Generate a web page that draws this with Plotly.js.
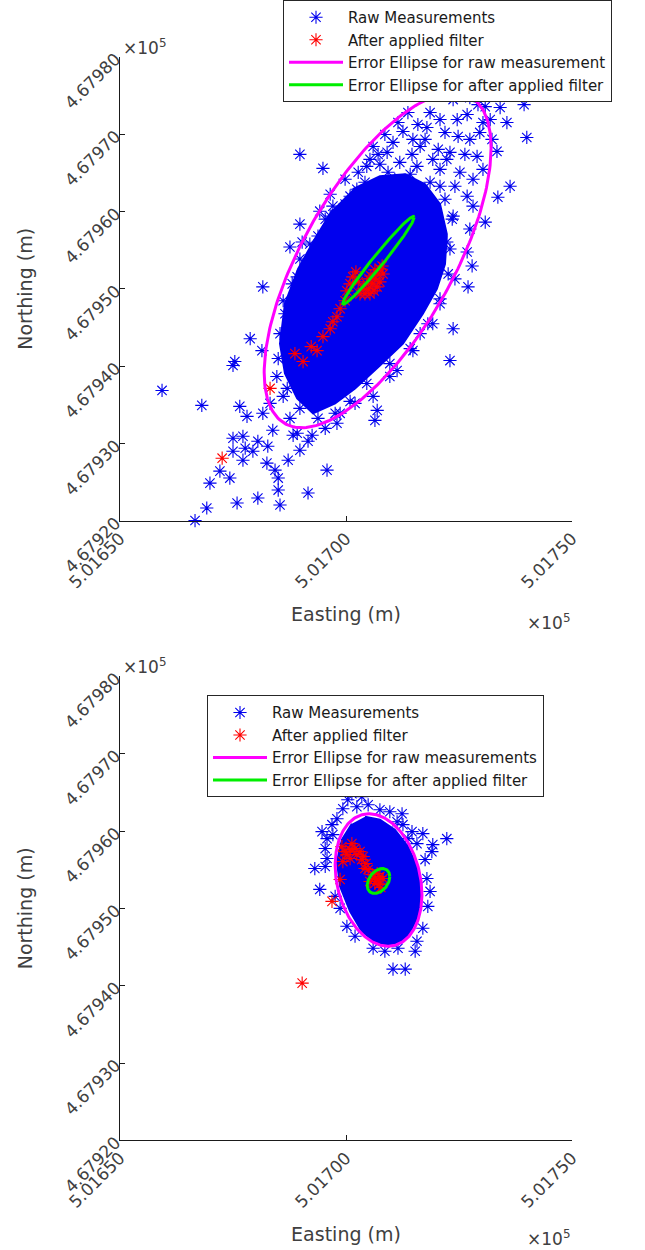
<!DOCTYPE html>
<html>
<head>
<meta charset="utf-8">
<script src="https://cdn.plot.ly/plotly-3.0.1.min.js"></script>
<style>html,body{margin:0;padding:0;background:#fff;}#chart{width:645px;height:1250px;}</style>
</head>
<body>
<div id="chart"></div>
<script>
// ---------- Tick labels ----------
const xTickVals = [501650, 501700, 501750];
const xTickText = ["5.01650", "5.01700", "5.01750"];
const yTickVals = [4679200, 4679300, 4679400, 4679500, 4679600, 4679700, 4679800];
const yTickText = ["4.67920", "4.67930", "4.67940", "4.67950", "4.67960", "4.67970", "4.67980"];

// ---------- Top panel: raw measurements (individually visible asterisks) ----------
const rawTopE = [501689.8,501694.9,501713.7,501712.6,501715.9,501717.9,501710.4,501716.4,501720.4,501706.0,
501707.5,501704.6,501709.1,501724.6,501726.8,501724.8,501727.4,501723.7,501727.4,501730.8,
501734.1,501735.6,501730.3,501729.6,501733.4,501733.6,501736.3,501730.8,501729.0,501730.3,
501728.1,501725.2,501722.3,501719.2,501715.7,501711.9,501720.8,501726.8,501728.1,501723.7,
501727.4,501726.8,501722.3,501689.8,501694.2,501697.1,501700.9,501687.6,501690.3,501693.8,
501696.5,501705.3,501681.6,501678.8,501681.4,501675.4,501727.9,501727.0,501723.7,501719.2,
501723.0,501675.0,501676.5,501678.1,501681.6,501683.8,501689.2,501692.5,501698.0,501698.7,
501706.0,501706.9,501706.4,501709.7,501711.3,501714.8,501686.1,501684.7,501686.1,501689.2,
501659.3,501668.1,501675.0,501677.2,501677.7,501675.0,501679.4,501680.5,501682.7,501677.2,
501672.1,501674.3,501669.9,501682.5,501684.3,501685.0,501685.0,501687.2,501689.8,501691.6,
501688.3,501695.8,501691.6,501685.4,501680.5,501675.9,501669.2,501666.6,501739.4,501740.0,
501683.2,501687.6,501695.4,501702.0,501716.4,501720.8,501724.1,501699.8,501696.5,501702.7,
501708.6,501711.5,501718.6,501721.9,501714.6,501717.5,501723.0,501726.3,501720.8,501724.1,
501710.8,501704.2,501702.4,501699.8,501731.9,501732.3,501729.2,501720.8,501714.8,501707.1,
501689.8,501688.1,501686.5,501685.4,501685.0,501687.0,501689.8,501693.8,501697.6,501700.9,
501704.6,501709.7,501714.2,501718.1,501720.8,501722.6,501723.0,501723.5,501721.9,501718.6,
501714.2,501709.3,501695.4,501692.0];
const rawTopN = [4679673.8,4679655.8,4679727.9,4679703.5,4679712.5,4679708.6,4679689.3,4679684.1,4679680.3,4679684.1,
4679661.0,4679658.4,4679676.4,4679718.9,4679725.3,4679697.0,4679693.2,4679744.7,4679747.2,4679735.6,
4679734.4,4679715.0,4679715.0,4679702.2,4679677.7,4679618.5,4679632.6,4679586.3,4679671.3,4679654.5,
4679641.7,4679650.7,4679667.4,4679667.4,4679658.4,4679663.5,4679632.6,4679619.8,4679606.9,4679594.0,
4679577.3,4679547.7,4679560.5,4679583.7,4679600.4,4679606.9,4679619.8,4679554.1,4679560.5,4679568.3,
4679594.0,4679667.4,4679502.6,4679435.6,4679420.2,4679406.0,4679529.6,4679502.6,4679448.5,4679454.9,
4679407.3,4679400.9,4679348.1,4679335.2,4679339.1,4679317.2,4679313.3,4679310.7,4679326.2,4679339.1,
4679361.0,4679342.9,4679330.0,4679386.7,4679394.4,4679420.2,4679361.0,4679386.7,4679484.6,4679515.5,
4679368.7,4679349.4,4679306.9,4679309.4,4679294.0,4679290.1,4679290.1,4679303.0,4679296.6,4679278.5,
4679264.4,4679255.4,4679248.9,4679274.7,4679265.7,4679255.4,4679239.9,4679278.5,4679291.4,4679303.0,
4679310.7,4679265.7,4679236.1,4679220.6,4679229.6,4679223.2,4679216.7,4679200.5,4679738.2,4679695.7,
4679351.9,4679332.6,4679319.7,4679351.9,4679442.1,4679480.7,4679512.9,4679641.7,4679622.3,4679650.7,
4679699.6,4679715.0,4679727.9,4679702.2,4679673.8,4679693.2,4679676.4,4679673.8,4679654.5,4679632.6,
4679641.7,4679637.8,4679628.8,4679609.5,4679718.9,4679693.2,4679738.2,4679718.9,4679693.2,4679673.8,
4679538.6,4679506.4,4679467.8,4679442.1,4679409.9,4679371.3,4679345.5,4679332.6,4679339.1,4679354.5,
4679377.7,4679403.4,4679422.8,4679454.9,4679487.1,4679519.3,4679551.5,4679590.1,4679615.9,4679637.8,
4679648.1,4679650.7,4679590.1,4679558.0];

// Outline of the region where the raw points overlap into a solid mass (top)
const coreTopE = [501701.5,501707.5,501713.1,501717.5,501720.8,501722.3,501721.9,501720.1,501717.0,501712.6,
501707.5,501702.0,501697.6,501692.7,501689.2,501686.5,501685.4,501686.5,501689.4,501693.1,501697.1];
const coreTopN = [4679628.8,4679645.5,4679648.1,4679635.2,4679609.5,4679570.8,4679532.2,4679500.0,4679467.8,4679429.2,
4679400.9,4679371.3,4679351.9,4679339.1,4679358.4,4679390.6,4679429.2,4679480.7,4679525.8,4679564.4,4679603.0];

// Top panel: after applied filter
const filtTopE = [501672.6,501683.2,501688.7,501690.5,501693.6,501694.9,501696.5,501698.0,501698.7,501699.8,
501700.2,501700.9,501701.5,501704.2,501704.9,501705.8,501706.4,501707.1,501707.5,501705.3,
501706.2,501706.9,501707.5,501704.6,501705.5,501706.4,501705.1,501708.0,501703.8,501702.7,
501703.1,501708.2,501702.2,501697.1,501692.3];
const filtTopN = [4679281.1,4679371.3,4679416.3,4679406.0,4679420.2,4679438.2,4679448.5,4679464.0,4679474.3,4679484.6,
4679497.4,4679506.4,4679515.5,4679493.6,4679500.0,4679506.4,4679512.9,4679519.3,4679525.8,4679493.6,
4679497.4,4679502.6,4679509.0,4679506.4,4679516.7,4679524.5,4679512.9,4679529.6,4679500.0,4679509.0,
4679493.6,4679519.3,4679521.9,4679457.5,4679425.3];

// Error ellipses: [centre E, centre N, half-extent E, half-extent N, correlation]
const ellRawTop  = [501707.0, 4679537.0, 25.1, 216.5, 0.67];
const ellFiltTop = [501707.2, 4679537.0, 7.9, 56.7, 0.98];

// ---------- Bottom panel ----------
const rawBotE = [501702.4,501701.3,501700.4,501699.3,501702.4,501704.9,501707.5,501709.7,501712.4,501712.6,
501711.3,501698.0,501696.9,501694.7,501695.8,501697.1,501695.4,501693.1,501695.4,501694.2,
501717.0,501719.2,501719.0,501722.3,501715.7,501713.7,501717.9,501718.6,501717.0,501715.7,
501715.3,501711.5,501706.0,501700.2,501698.7,501710.4,501713.1,501695.8,501703.5,501714.6,
501717.5,501718.1,501708.6,501697.6,501702.0];
const rawBotN = [4679657.1,4679648.1,4679640.4,4679628.8,4679631.3,4679633.9,4679627.5,4679624.9,4679622.3,4679608.2,
4679612.0,4679615.9,4679608.2,4679599.2,4679590.1,4679595.3,4679577.3,4679551.5,4679554.1,4679524.5,
4679596.6,4679582.4,4679573.4,4679590.1,4679583.7,4679590.1,4679538.6,4679521.9,4679474.3,4679457.5,
4679444.6,4679448.5,4679448.5,4679476.8,4679500.0,4679421.5,4679421.5,4679564.4,4679644.2,4679599.2,
4679563.1,4679502.6,4679444.6,4679515.5,4679464.0];

const coreBotE = [501704.2,501707.5,501710.8,501713.7,501715.7,501716.6,501715.9,501713.7,501710.4,501707.1,
501703.5,501700.9,501698.7,501698.0,501699.1,501701.3];
const coreBotN = [4679618.5,4679614.6,4679601.7,4679579.8,4679554.1,4679521.9,4679489.7,4679464.0,4679451.1,4679453.7,
4679470.4,4679496.1,4679528.3,4679560.5,4679588.9,4679609.5];

const filtBotE = [501690.3,501696.9,501698.7,501699.3,501700.2,501700.9,501702.0,501703.1,501703.8,501704.4,
501704.9,501705.8,501706.4,501707.1,501707.5,501706.4,501700.9,501699.8,501702.4,501703.5,
501704.2,501706.9,501707.3,501708.2,501705.3,501707.7,501701.3,501699.1];
const filtBotN = [4679403.4,4679509.0,4679537.4,4679560.5,4679569.5,4679576.0,4679577.3,4679573.4,4679567.0,4679558.0,
4679550.2,4679543.8,4679538.6,4679537.4,4679541.2,4679532.2,4679564.4,4679573.4,4679569.5,4679563.1,
4679551.5,4679545.1,4679530.9,4679538.6,4679534.8,4679527.0,4679583.7,4679579.8];

const ellRawBot  = [501707.2, 4679536.7, 9.6, 85.6, -0.22];
const ellFiltBot = [501707.2, 4679535.4, 2.5, 16.1, 0.35];

// ---------- Styling ----------
const BLUE = '#0000EE', RED = '#FF0000', MAG = '#FF00FF', GRN = '#00EE00';
const FONT = 'DejaVu Sans, Liberation Sans, sans-serif';

function ellipseXY(p) {
  const [ce, cn, ae, an, rho] = p;
  const s = Math.sqrt(1 - rho * rho);
  const xs = [], ys = [];
  for (let i = 0; i <= 240; i++) {
    const t = 2 * Math.PI * i / 240;
    xs.push(ce + ae * Math.cos(t));
    ys.push(cn + an * (rho * Math.cos(t) + s * Math.sin(t)));
  }
  return [xs, ys];
}

function panel(xa, ya, lg, rawE, rawN, coreE, coreN, fE, fN, eR, eF, rawLabel) {
  const [mx, my] = ellipseXY(eR);
  const [gx, gy] = ellipseXY(eF);
  return [
    {x: coreE, y: coreN, xaxis: xa, yaxis: ya, type: 'scatter', mode: 'lines', fill: 'toself',
     fillcolor: BLUE, line: {color: BLUE, width: 2}, showlegend: false, hoverinfo: 'skip', legend: lg},
    {x: rawE, y: rawN, xaxis: xa, yaxis: ya, type: 'scatter', mode: 'markers', name: 'Raw Measurements', legend: lg,
     cliponaxis: false,
     marker: {symbol: 'asterisk-open', size: 11, color: BLUE, line: {color: BLUE, width: 1.1}}},
    {x: fE, y: fN, xaxis: xa, yaxis: ya, type: 'scatter', mode: 'markers', name: 'After applied filter', legend: lg,
     cliponaxis: false,
     marker: {symbol: 'asterisk-open', size: 11, color: RED, line: {color: RED, width: 1.1}}},
    {x: mx, y: my, xaxis: xa, yaxis: ya, type: 'scatter', mode: 'lines', name: rawLabel, legend: lg,
     line: {color: MAG, width: 3}},
    {x: gx, y: gy, xaxis: xa, yaxis: ya, type: 'scatter', mode: 'lines', name: 'Error Ellipse for after applied filter', legend: lg,
     line: {color: GRN, width: 3}}
  ];
}

const data = [].concat(
  panel('x', 'y', 'legend', rawTopE, rawTopN, coreTopE, coreTopN, filtTopE, filtTopN, ellRawTop, ellFiltTop,
        'Error Ellipse for raw measurement'),
  panel('x2', 'y2', 'legend2', rawBotE, rawBotN, coreBotE, coreBotN, filtBotE, filtBotN, ellRawBot, ellFiltBot,
        'Error Ellipse for raw measurements')
);

function xAxis(dom, anchor) {
  return {domain: dom, anchor: anchor, range: [501650, 501750], showline: true, linecolor: '#1a1a1a', linewidth: 1,
    mirror: false, ticks: 'inside', ticklen: 5, tickcolor: '#1a1a1a', tickmode: 'array', tickvals: xTickVals,
    ticktext: xTickText, tickangle: -45, tickfont: {family: FONT, size: 17, color: '#404040'},
    showgrid: false, zeroline: false, fixedrange: true,
    title: {text: 'Easting (m)', font: {family: FONT, size: 19, color: '#404040'}, standoff: 16}};
}
function yAxis(dom, anchor) {
  return {domain: dom, anchor: anchor, range: [4679200, 4679800], showline: true, linecolor: '#1a1a1a', linewidth: 1,
    mirror: false, ticks: 'inside', ticklen: 5, tickcolor: '#1a1a1a', tickmode: 'array', tickvals: yTickVals,
    ticktext: yTickText, tickangle: -45, tickfont: {family: FONT, size: 17, color: '#404040'},
    showgrid: false, zeroline: false, fixedrange: true,
    title: {text: 'Northing (m)', font: {family: FONT, size: 19, color: '#404040'}, standoff: 22}};
}

const W = 645, H = 1250;
const legendBase = {bordercolor: '#262626', borderwidth: 1, bgcolor: '#ffffff', xanchor: 'left', yanchor: 'top',
  font: {family: FONT, size: 15, color: '#1a1a1a'}, tracegroupgap: 0, itemwidth: 54};

const expFont = {family: FONT, size: 17, color: '#404040'};
const layout = {
  width: W, height: H, margin: {l: 0, r: 0, t: 0, b: 0}, paper_bgcolor: '#fff', plot_bgcolor: '#fff',
  font: {family: FONT},
  showlegend: true,
  xaxis: xAxis([120 / W, 572 / W], 'y'),
  yaxis: yAxis([1 - 518 / H, 1 - 52 / H], 'x'),
  xaxis2: xAxis([120 / W, 572 / W], 'y2'),
  yaxis2: yAxis([1 - 1140 / H, 1 - 674 / H], 'x2'),
  legend: Object.assign({}, legendBase, {x: 283 / W, y: 1 + 5 / H}),
  legend2: Object.assign({}, legendBase, {x: 207 / W, y: 1 - 693 / H}),
  annotations: [
    {xref: 'paper', yref: 'paper', x: 121 / W, y: 1 - 42 / H, xanchor: 'left', yanchor: 'middle', showarrow: false,
     text: '×10<sup>5</sup>', font: expFont},
    {xref: 'paper', yref: 'paper', x: 121 / W, y: 1 - 664 / H, xanchor: 'left', yanchor: 'middle', showarrow: false,
     text: '×10<sup>5</sup>', font: expFont},
    {xref: 'paper', yref: 'paper', x: 572 / W, y: 1 - 619 / H, xanchor: 'right', yanchor: 'middle', showarrow: false,
     text: '×10<sup>5</sup>', font: expFont},
    {xref: 'paper', yref: 'paper', x: 572 / W, y: 1 - 1238 / H, xanchor: 'right', yanchor: 'middle', showarrow: false,
     text: '×10<sup>5</sup>', font: expFont}
  ]
};

Plotly.newPlot('chart', data, layout, {displayModeBar: false, staticPlot: true});
</script>
</body>
</html>
